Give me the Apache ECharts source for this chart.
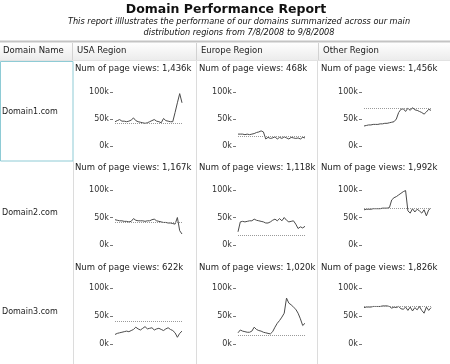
<!DOCTYPE html>
<html>
<head>
<meta charset="utf-8">
<script src="https://cdn.jsdelivr.net/npm/echarts@6/dist/echarts.min.js"></script>
<style>
html,body{margin:0;padding:0;background:#fff;}
#chart{width:450px;height:364px;}
</style>
</head>
<body>
<div id="chart"></div>
<script>
// ---- data ----
var domains = ['Domain1.com', 'Domain2.com', 'Domain3.com'];
var regions = ['USA Region', 'Europe Region', 'Other Region'];
var yTicks = [0, 50000, 100000];

var totals = [
  ['1,436k', '468k', '1,456k'],
  ['1,167k', '1,118k', '1,992k'],
  ['622k', '1,020k', '1,826k']
];
var targets = [
  [43000, 18000, 70000],
  [41000, 17000, 67000],
  [40000, 15000, 67000]
];

var d1Usa = [45,47,49,46,46,45,46,48,52,47,45,44,43,42,43,45,47,49,46,45,43,51,47,46,45,45,62,80,97,80];
var d1Eur = [22,22,22,21,22,21,22,23,25,26,28,26,13,16,14,15,17,13,16,14,17,15,13,16,15,14,15,13,16,15];
var d1Oth = [37,38,39,39,40,40,40,41,41,42,42,43,44,45,50,62,68,69,64,70,66,71,67,66,64,62,59,63,68,66];
var d2Usa = [46,45,44,44,43,43,42,43,48,45,44,44,44,43,44,44,46,47,44,43,42,41,41,40,40,39,38,50,26,20];
var d2Eur = [24,42,43,42,43,44,44,47,45,44,43,42,40,40,42,45,47,44,48,44,50,45,42,43,44,38,30,33,31,34];
var d2Oth = [64,65,65,65,66,66,66,66,67,67,67,68,82,86,88,91,94,97,99,62,58,66,60,65,62,58,64,53,64,67];
var d3Usa = [17,19,20,21,22,23,22,24,26,30,27,25,28,31,27,28,29,25,27,28,26,24,27,29,26,24,20,12,19,23];
var d3Eur = [20,25,23,22,21,21,23,30,26,24,23,21,20,19,18,22,30,37,42,48,55,82,73,70,66,62,55,45,33,37];
var d3Oth = [65,66,66,66,67,67,67,67,68,68,68,67,64,66,65,67,63,62,66,60,66,59,65,61,67,60,55,66,60,65];

var cells = [
  [d1Usa, d1Eur, d1Oth],
  [d2Usa, d2Eur, d2Oth],
  [d3Usa, d3Eur, d3Oth]
];
var days = d1Usa.map(function (_, i) { return 'd' + (i + 1); });

// ---- layout ----
var FONT = 'DejaVu Sans';
var colLeft = [115, 238, 364];
var colText = [75, 199, 321];
var rowTop = [92, 190, 288];
var rowH = [54, 55, 56];
var rowText = [69, 168, 268];
var rowName = [112, 213, 312];
var plotW = 67;

var grids = [], xAxes = [], yAxes = [], series = [];
var graphics = [];

// header
graphics.push({type:'rect', shape:{x:0,y:42,width:450,height:19}, silent:true,
  style:{fill:new echarts.graphic.LinearGradient(0,0,0,1,[{offset:0,color:'#ffffff'},{offset:1,color:'#ebebeb'}])}});
graphics.push({type:'line', shape:{x1:0,y1:41.5,x2:450,y2:41.5}, style:{stroke:'#c4c4c4',lineWidth:2}});
graphics.push({type:'line', shape:{x1:0,y1:60.5,x2:450,y2:60.5}, style:{stroke:'#e2e2e2',lineWidth:1}});
[72.5, 196.5, 318.5].forEach(function (x) {
  graphics.push({type:'line', shape:{x1:x,y1:43,x2:x,y2:60}, style:{stroke:'#d2d2d2',lineWidth:1}});
});
var headX = [3, 77, 201, 323];
['Domain Name'].concat(regions).forEach(function (t, i) {
  graphics.push({type:'text', x:headX[i], y:51, style:{text:t, fontFamily:FONT, fontSize:8.5, fill:'#222', textVerticalAlign:'middle'}});
});
// column lines in body
graphics.push({type:'line', shape:{x1:73.5,y1:161,x2:73.5,y2:364}, style:{stroke:'#dcdcdc',lineWidth:1}});
graphics.push({type:'line', shape:{x1:196.5,y1:61,x2:196.5,y2:364}, style:{stroke:'#dcdcdc',lineWidth:1}});
graphics.push({type:'line', shape:{x1:317.5,y1:61,x2:317.5,y2:364}, style:{stroke:'#dcdcdc',lineWidth:1}});
// selected cell border
graphics.push({type:'rect', shape:{x:0.5,y:61.5,width:72.5,height:99.5}, style:{fill:null, stroke:'#8ecbd5', lineWidth:1}});

// title
graphics.push({type:'text', x:226, y:10, style:{text:'Domain Performance Report', fontFamily:FONT, fontWeight:'bold', fontSize:12.5, fill:'#111', textAlign:'center', textVerticalAlign:'middle'}});
graphics.push({type:'text', x:239, y:22, style:{text:'This report illlustrates the performane of our domains summarized across our main', fontFamily:FONT, fontStyle:'italic', fontSize:8.2, fill:'#111', textAlign:'center', textVerticalAlign:'middle'}});
graphics.push({type:'text', x:239, y:33, style:{text:'distribution regions from 7/8/2008 to 9/8/2008', fontFamily:FONT, fontStyle:'italic', fontSize:8.2, fill:'#111', textAlign:'center', textVerticalAlign:'middle'}});

for (var r = 0; r < 3; r++) {
  graphics.push({type:'text', x:2, y:rowName[r], style:{text:domains[r], fontFamily:FONT, fontSize:8, fill:'#222', textVerticalAlign:'middle'}});
  for (var c = 0; c < 3; c++) {
    var idx = r * 3 + c;
    graphics.push({type:'text', x:colText[c], y:rowText[r], style:{text:'Num of page views: ' + totals[r][c], fontFamily:FONT, fontSize:8.5, fill:'#222', textVerticalAlign:'middle'}});
    grids.push({left:colLeft[c], top:rowTop[r], width:plotW, height:rowH[r], containLabel:false});
    xAxes.push({type:'category', gridIndex:idx, data:days, boundaryGap:false, show:false});
    yAxes.push({type:'value', gridIndex:idx, min:yTicks[0], max:yTicks[2], interval:yTicks[1], offset:2,
      axisLine:{show:false}, splitLine:{show:false},
      axisTick:{show:true, length:3, lineStyle:{color:'#777'}},
      axisLabel:{fontFamily:FONT, fontSize:8, color:'#333', margin:4, formatter:function (v) { return (v/1000) + 'k'; }}});
    series.push({type:'line', xAxisIndex:idx, yAxisIndex:idx,
      data:cells[r][c].map(function (v) { return v * 1000; }),
      showSymbol:false, symbol:'none', lineStyle:{color:'#4a4a4a', width:1}, animation:false,
      markLine:{silent:true, symbol:['none','none'], label:{show:false},
        lineStyle:{color:'#9a9a9a', type:'dotted', width:1},
        data:[{yAxis:targets[r][c]}]}});
  }
}

var chart = echarts.init(document.getElementById('chart'), null, {renderer:'canvas'});
chart.setOption({
  animation:false,
  grid:grids, xAxis:xAxes, yAxis:yAxes, series:series,
  graphic:graphics
});
</script>
</body>
</html>
